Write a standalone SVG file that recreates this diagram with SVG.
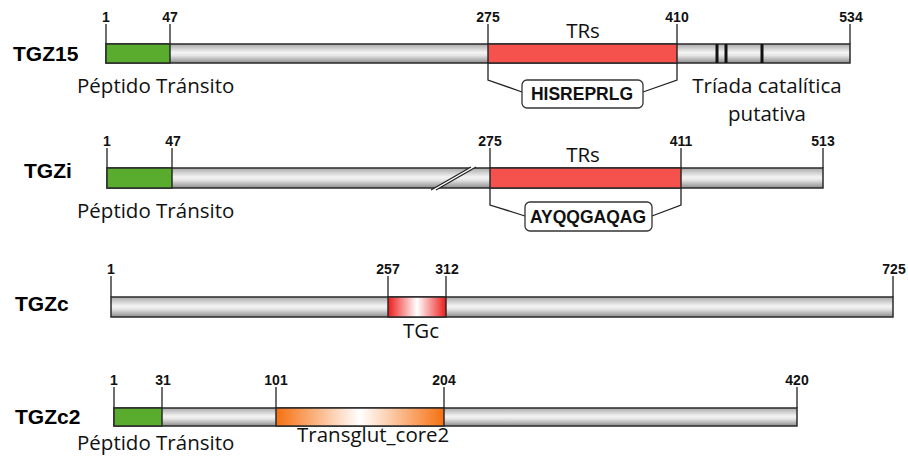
<svg xmlns="http://www.w3.org/2000/svg" width="908" height="456" viewBox="0 0 908 456">
<defs>
<linearGradient id="bar" x1="0" y1="0" x2="0" y2="1">
<stop offset="0" stop-color="#a9a9a9"/>
<stop offset="0.45" stop-color="#f4f4f4"/>
<stop offset="0.6" stop-color="#e6e6e6"/>
<stop offset="1" stop-color="#8c8c8c"/>
</linearGradient>
<linearGradient id="redg" x1="0" y1="0" x2="1" y2="0">
<stop offset="0" stop-color="#ee1c1c"/>
<stop offset="0.5" stop-color="#ffffff"/>
<stop offset="1" stop-color="#ee1c1c"/>
</linearGradient>
<linearGradient id="orag" x1="0" y1="0" x2="1" y2="0">
<stop offset="0" stop-color="#f57010"/>
<stop offset="0.5" stop-color="#ffffff"/>
<stop offset="1" stop-color="#f57010"/>
</linearGradient>
</defs>
<style>
.bar{fill:url(#bar);stroke:#2a2a2a;stroke-width:1.5}
.green{fill:#5aac2f;stroke:#2a2a2a;stroke-width:1.5}
.red{fill:#f5524e;stroke:#2a2a2a;stroke-width:1.5}
.redg{fill:url(#redg);stroke:#2a2a2a;stroke-width:1.5}
.orag{fill:url(#orag);stroke:#2a2a2a;stroke-width:1.5}
.tick{stroke:#222;stroke-width:1.3;fill:none}
.num{font-family:"Liberation Sans",Arial,sans-serif;font-weight:bold;font-size:14px;fill:#111;text-anchor:middle}
.name{font-family:"Liberation Sans",Arial,sans-serif;font-weight:bold;font-size:21px;fill:#000}
.lbl{font-family:"Open Sans","Liberation Sans",sans-serif;font-size:20.5px;fill:#111}
.box{fill:#fff;stroke:#333;stroke-width:1.3}
.boxt{font-family:"Liberation Sans",Arial,sans-serif;font-weight:bold;font-size:17.5px;fill:#111;text-anchor:middle}
.cat{stroke:#111;stroke-width:3}
</style>
<rect width="908" height="456" fill="#fff"/>

<g id="TGZ15">
<text class="name" x="13" y="61">TGZ15</text>
<rect class="bar" x="106" y="44" width="744" height="19"/>
<rect class="green" x="106" y="44" width="64" height="19"/>
<rect class="red" x="488" y="44" width="189" height="19"/>
<line class="cat" x1="717" y1="44" x2="717" y2="63"/>
<line class="cat" x1="726" y1="44" x2="726" y2="63"/>
<line class="cat" x1="762" y1="44" x2="762" y2="63"/>
<path class="tick" d="M106 24V44M170 24V44M488 24V44M677 24V44M850 24V44"/>
<text class="num" x="106" y="22">1</text>
<text class="num" x="170" y="22">47</text>
<text class="num" x="488" y="22">275</text>
<text class="num" x="677" y="22">410</text>
<text class="num" x="851" y="22">534</text>
<text class="lbl" x="583" y="38" text-anchor="middle">TRs</text>
<path class="tick" d="M488 63V80L522 92M677 63V80L643 92"/>
<rect class="box" x="522" y="80" width="121" height="28" rx="5"/>
<text class="boxt" x="582" y="100">HISREPRLG</text>
<text class="lbl" x="77" y="93">Péptido Tránsito</text>
<text class="lbl" x="767" y="93" text-anchor="middle">Tríada catalítica</text>
<text class="lbl" x="767" y="121" text-anchor="middle">putativa</text>
</g>

<g id="TGZi">
<text class="name" x="24" y="178">TGZi</text>
<rect class="bar" x="107" y="168" width="716" height="20"/>
<rect class="green" x="107" y="168" width="65" height="20"/>
<rect class="red" x="490" y="168" width="191" height="20"/>
<polygon points="431,190 436,190 476,167 471,167" fill="#fff"/>
<line class="tick" x1="431" y1="190" x2="471" y2="167"/>
<line class="tick" x1="436" y1="190" x2="476" y2="167"/>
<path class="tick" d="M107 148V168M172 148V168M490 148V168M681 148V168M823 148V168"/>
<text class="num" x="107" y="146">1</text>
<text class="num" x="173" y="146">47</text>
<text class="num" x="490" y="146">275</text>
<text class="num" x="681" y="146">411</text>
<text class="num" x="823" y="146">513</text>
<text class="lbl" x="583" y="162" text-anchor="middle">TRs</text>
<path class="tick" d="M490 188V205L525 216M681 188V205L652 216"/>
<rect class="box" x="525" y="202" width="127" height="29" rx="5"/>
<text class="boxt" x="588" y="223">AYQQGAQAG</text>
<text class="lbl" x="77" y="218">Péptido Tránsito</text>
</g>

<g id="TGZc">
<text class="name" x="15" y="311">TGZc</text>
<rect class="bar" x="111" y="297" width="782" height="20"/>
<rect class="redg" x="388" y="297" width="58" height="20"/>
<path class="tick" d="M111 276V297M388 276V297M446 276V297M893 276V297"/>
<text class="num" x="111" y="274">1</text>
<text class="num" x="388" y="274">257</text>
<text class="num" x="447" y="274">312</text>
<text class="num" x="894" y="274">725</text>
<text class="lbl" x="421" y="338" text-anchor="middle">TGc</text>
</g>

<g id="TGZc2">
<text class="name" x="15" y="424">TGZc2</text>
<rect class="bar" x="114" y="408" width="683" height="18"/>
<rect class="green" x="114" y="408" width="48" height="18"/>
<rect class="orag" x="276" y="408" width="168" height="18"/>
<path class="tick" d="M114 387V408M162 387V408M276 387V408M444 387V408M797 387V408"/>
<text class="num" x="114" y="385">1</text>
<text class="num" x="163" y="385">31</text>
<text class="num" x="276" y="385">101</text>
<text class="num" x="444" y="385">204</text>
<text class="num" x="797" y="385">420</text>
<text class="lbl" x="297" y="442">Transglut_core2</text>
<text class="lbl" x="77" y="450">Péptido Tránsito</text>
</g>
</svg>
